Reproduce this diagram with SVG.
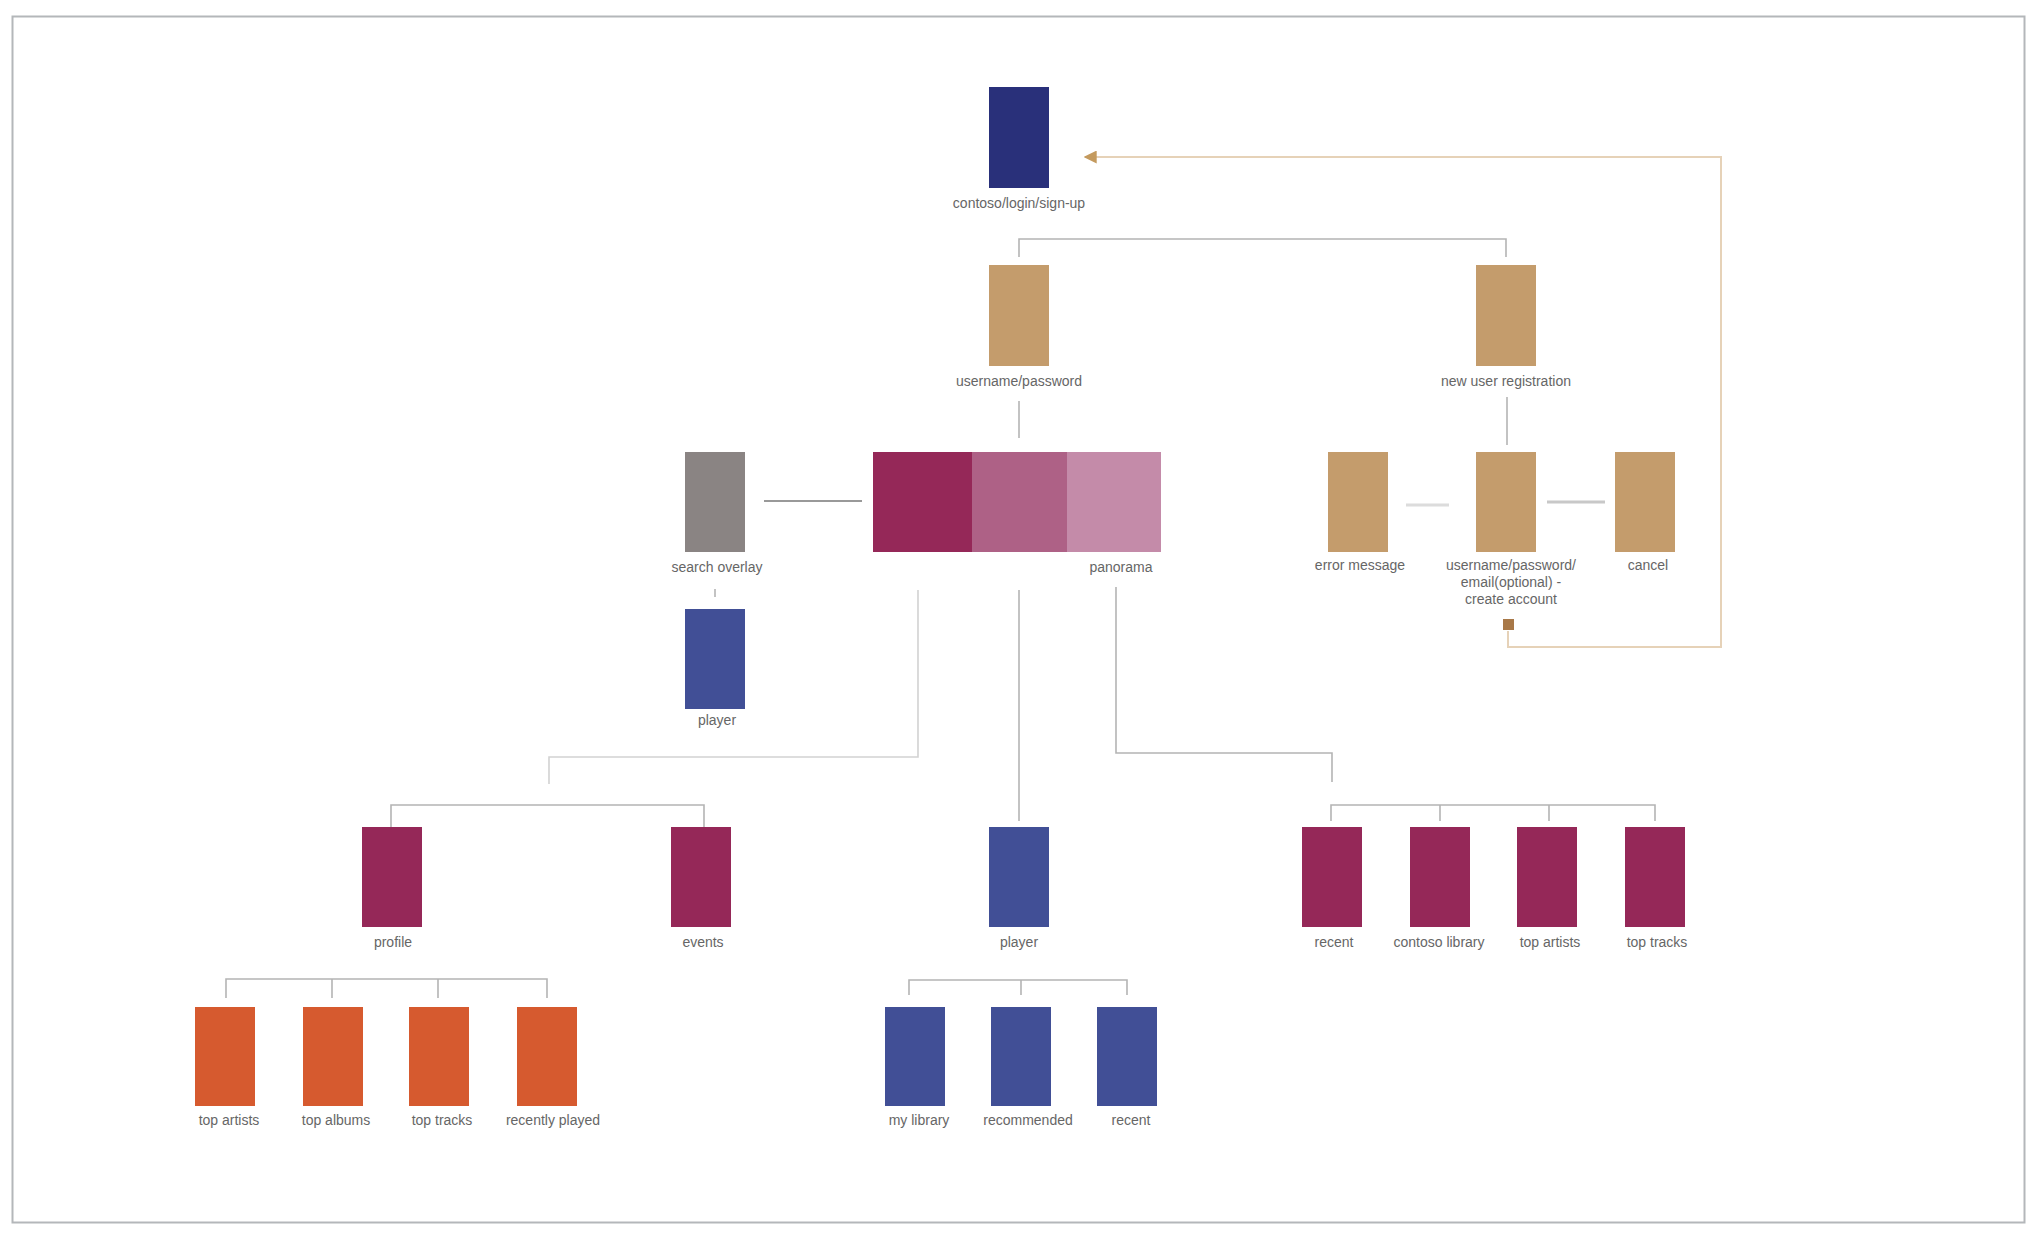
<svg xmlns="http://www.w3.org/2000/svg" width="2040" height="1236" viewBox="0 0 2040 1236">
<style>
.lbl{font-family:"Liberation Sans",Arial,sans-serif;font-size:14px;fill:#666;text-anchor:middle}
.c{fill:none;stroke:#b4b4b4;stroke-width:1.6}
.cl{fill:none;stroke:#d2d2d2;stroke-width:1.6}
.tan{fill:#c49c6c}
.mag{fill:#952858}
.blue{fill:#414f96}
.org{fill:#d65a2f}
</style>
<defs>
<marker id="arr" viewBox="0 0 10 10" refX="9" refY="5" markerWidth="13" markerHeight="13" markerUnits="userSpaceOnUse" orient="auto">
<path d="M10,5 L0,0 L0,10 Z" fill="#c49a5e"/>
</marker>
</defs>
<rect x="0" y="0" width="2040" height="1236" fill="#fff"/>
<rect x="12.5" y="16.5" width="2012" height="1206" fill="none" stroke="#b4b7ba" stroke-width="2"/>

<g id="connectors">
<path class="c" d="M1019,257 V239 H1506 V257"/>
<path class="c" d="M1019,401 V438"/>
<path class="c" d="M1507,397 V445"/>
<path d="M764,501 H862" fill="none" stroke="#999" stroke-width="2"/>
<path class="c" d="M715,589 V597"/>
<path d="M1406,505 H1449" fill="none" stroke="#dcdcdc" stroke-width="3"/>
<path d="M1547,502 H1605" fill="none" stroke="#c8c8c8" stroke-width="3"/>
<path class="cl" d="M918,590 V757 H549 V784"/>
<path class="c" d="M1019,590 V821"/>
<path class="c" d="M1116,587 V753 H1332 V782"/>
<path class="c" d="M391,827 V805 H704 V827"/>
<path class="c" d="M1331,821 V805 H1655 V821 M1440,805 V821 M1549,805 V821"/>
<path class="c" d="M226,998 V979 H547 V998 M332,979 V998 M438,979 V998"/>
<path class="c" d="M909,995 V980 H1127 V995 M1021,980 V995"/>
<path d="M1508,631 V647 H1721 V157 H1085" fill="none" stroke="#e6d2b8" stroke-width="2" marker-end="url(#arr)"/>
<rect x="1503" y="619" width="11" height="11" fill="#a87848"/>
</g>

<g id="login"><rect x="989" y="87" width="60" height="101" fill="#29307a"/><text class="lbl" x="1019" y="208">contoso/login/sign-up</text></g>
<g id="username-password"><rect class="tan" x="989" y="265" width="60" height="101"/><text class="lbl" x="1019" y="386">username/password</text></g>
<g id="new-user-registration"><rect class="tan" x="1476" y="265" width="60" height="101"/><text class="lbl" x="1506" y="386">new user registration</text></g>

<g id="search-overlay"><rect x="685" y="452" width="60" height="100" fill="#8a8483"/><text class="lbl" x="717" y="572">search overlay</text></g>
<g id="player-search"><rect class="blue" x="685" y="609" width="60" height="100"/><text class="lbl" x="717" y="725">player</text></g>
<g id="panorama">
<rect x="873" y="452" width="99" height="100" fill="#952858"/>
<rect x="972" y="452" width="95" height="100" fill="#ae6186"/>
<rect x="1067" y="452" width="94" height="100" fill="#c48ba9"/>
<text class="lbl" x="1121" y="572">panorama</text>
</g>

<g id="error-message"><rect class="tan" x="1328" y="452" width="60" height="100"/><text class="lbl" x="1360" y="570">error message</text></g>
<g id="create-account"><rect class="tan" x="1476" y="452" width="60" height="100"/>
<text class="lbl" x="1511" y="570">username/password/</text>
<text class="lbl" x="1511" y="587">email(optional) -</text>
<text class="lbl" x="1511" y="604">create account</text></g>
<g id="cancel"><rect class="tan" x="1615" y="452" width="60" height="100"/><text class="lbl" x="1648" y="570">cancel</text></g>

<g id="profile"><rect class="mag" x="362" y="827" width="60" height="100"/><text class="lbl" x="393" y="947">profile</text></g>
<g id="events"><rect class="mag" x="671" y="827" width="60" height="100"/><text class="lbl" x="703" y="947">events</text></g>
<g id="player-main"><rect class="blue" x="989" y="827" width="60" height="100"/><text class="lbl" x="1019" y="947">player</text></g>
<g id="recent-pano"><rect class="mag" x="1302" y="827" width="60" height="100"/><text class="lbl" x="1334" y="947">recent</text></g>
<g id="contoso-library"><rect class="mag" x="1410" y="827" width="60" height="100"/><text class="lbl" x="1439" y="947">contoso library</text></g>
<g id="top-artists-pano"><rect class="mag" x="1517" y="827" width="60" height="100"/><text class="lbl" x="1550" y="947">top artists</text></g>
<g id="top-tracks-pano"><rect class="mag" x="1625" y="827" width="60" height="100"/><text class="lbl" x="1657" y="947">top tracks</text></g>

<g id="top-artists"><rect class="org" x="195" y="1007" width="60" height="99"/><text class="lbl" x="229" y="1125">top artists</text></g>
<g id="top-albums"><rect class="org" x="303" y="1007" width="60" height="99"/><text class="lbl" x="336" y="1125">top albums</text></g>
<g id="top-tracks"><rect class="org" x="409" y="1007" width="60" height="99"/><text class="lbl" x="442" y="1125">top tracks</text></g>
<g id="recently-played"><rect class="org" x="517" y="1007" width="60" height="99"/><text class="lbl" x="553" y="1125">recently played</text></g>

<g id="my-library"><rect class="blue" x="885" y="1007" width="60" height="99"/><text class="lbl" x="919" y="1125">my library</text></g>
<g id="recommended"><rect class="blue" x="991" y="1007" width="60" height="99"/><text class="lbl" x="1028" y="1125">recommended</text></g>
<g id="recent-player"><rect class="blue" x="1097" y="1007" width="60" height="99"/><text class="lbl" x="1131" y="1125">recent</text></g>
</svg>
